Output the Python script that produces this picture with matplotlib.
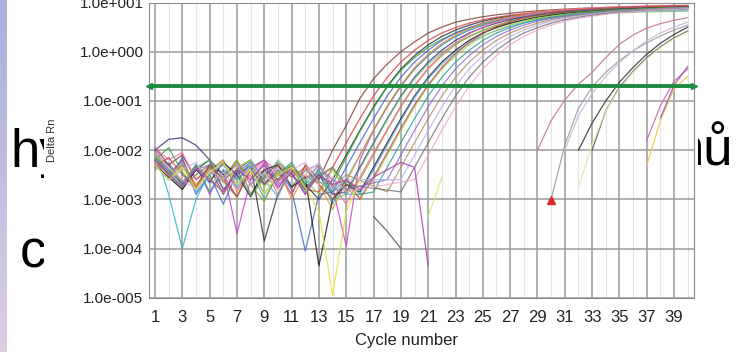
import numpy as np
import matplotlib
matplotlib.use("Agg")
import matplotlib.pyplot as plt
from matplotlib.patches import Rectangle
from matplotlib.ticker import NullLocator
from matplotlib.colors import LinearSegmentedColormap

plt.rcParams['font.family'] = ['Liberation Sans', 'DejaVu Sans']

# axis labels / ticks
x_ticks = list(range(1, 40, 2))
y_ticks = [1e-5, 1e-4, 1e-3, 1e-2, 1e-1, 1e0, 1e1]
y_tick_labels = ["1.0e-005", "1.0e-004", "1.0e-003", "1.0e-002",
                 "1.0e-001", "1.0e+000", "1.0e+001"]
threshold = 0.2

# early amplification curves, log10(Delta Rn)
# base = noisy baseline from cycle 1, rise = curve from rise_start on
early_base = [
    [-1.95, -2.3, -2.1, -2.6, -2.35, -2.9, -2.4, -2.2, -2.7, -2.45, -2.9, -2.3, -2.6],
    [-2.05, -2.5, -2.2, -2.75, -2.3, -2.5, -2.95, -2.4, -2.2, -2.65, -2.35, -2.8],
    [-2.1, -2.3, -2.7, -2.4, -2.2, -2.8, -2.5, -2.3, -3.85, -2.9, -2.4, -2.7, -3.0],
    [-2.2, -1.95, -2.45, -2.8, -2.3, -2.6, -2.2, -2.9, -2.5, -2.3, -2.75, -2.4, -2.65],
    [-2.3, -2.6, -2.15, -2.9, -2.5, -3.1, -2.45, -2.25, -2.7, -2.4, -2.8, -4.05, -2.9],
    [-2.0, -2.4, -2.7, -2.3, -2.9, -2.4, -3.7, -2.6, -2.25, -2.8, -2.35, -2.55],
    [-2.0, -2.9, -4.0, -3.0, -2.45, -2.2, -2.75, -2.4, -3.0, -2.5, -2.3, -2.85, -2.45, -3.1],
    [-2.15, -2.5, -2.25, -2.7, -2.4, -2.2, -2.85, -2.3, -2.6, -2.35, -3.0, -2.5, -2.7, -3.2],
    [-2.0, -1.78, -1.75, -1.9, -2.2, -2.5, -2.3, -2.7, -2.4, -2.6, -2.3, -2.75, -2.5, -2.9],
    [-2.1, -2.5, -2.8, -2.35, -2.2, -2.65, -2.95, -2.3, -2.6, -2.2, -2.5, -2.85, -2.4, -3.0],
    [-2.25, -2.6, -2.3, -2.8, -2.35, -2.55, -2.2, -2.7, -3.05, -2.45, -2.3, -2.8, -2.5, -2.35, -2.9],
    [-1.95, -2.2, -2.05, -2.6, -2.45, -2.25, -2.8, -2.5, -2.2, -2.45, -2.9, -2.4, -2.3, -2.7, -3.1],
    [-2.3, -2.55, -2.8, -2.4, -2.65, -2.25, -2.5, -2.95, -2.4, -2.3, -2.75, -2.55, -4.35, -3.0, -2.7],
    [-2.2, -2.45, -2.25, -2.85, -2.5, -2.3, -2.7, -2.2, -2.6, -2.95, -2.35, -2.65, -2.3, -2.75, -2.9],
    [-2.1, -2.35, -2.65, -2.3, -2.55, -2.85, -2.35, -2.2, -2.75, -2.45, -2.3, -2.6, -2.9, -2.4, -2.8, -2.95],
    [-2.35, -2.15, -2.5, -2.75, -2.3, -2.6, -2.95, -2.4, -2.7, -2.3, -2.55, -2.35, -2.7, -3.0, -2.6, -3.0],
    [-2.15, -2.4, -2.7, -2.3, -2.85, -2.4, -2.6, -2.3, -2.9, -2.5, -2.25, -2.7, -2.4, -2.85, -2.6, -2.9],
    [-2.4, -2.25, -2.65, -2.4, -2.3, -2.8, -2.5, -2.35, -2.2, -2.7, -2.45, -2.9, -2.35, -2.6, -2.8],
    [-2.25, -2.5, -2.3, -2.75, -2.4, -2.65, -2.25, -2.55, -2.4, -2.9, -2.35, -2.6, -2.3, -2.75, -2.5],
    [-2.3, -2.6, -2.4, -2.25, -2.7, -2.45, -2.8, -2.3, -2.55, -2.35, -2.7, -2.5, -2.25, -2.8, -2.6],
    [-2.2, -2.45, -2.75, -2.5, -2.3, -2.6, -2.4, -2.95, -2.55, -2.25, -2.5, -2.8, -2.55, -2.35, -2.7],
    [-2.05, -2.35, -2.6, -2.8, -2.4, -2.6, -2.3, -2.7, -2.45, -2.8, -2.4, -2.25, -2.7, -2.55, -2.85],
]
early_rise_start = [14, 13, 14, 14, 14, 13, 15, 15, 15, 15, 16, 16, 16, 16,
                    17, 17, 17, 18, 18, 19, 19, 20]
early_rise = [
    [-2.0, -1.5, -0.95, -0.55, -0.25, 0.0, 0.2, 0.38, 0.5, 0.6, 0.66, 0.71, 0.75, 0.78, 0.81, 0.83, 0.85, 0.865, 0.88, 0.89, 0.9, 0.91, 0.915, 0.92, 0.925, 0.93, 0.935],
    [-2.85, -2.35, -1.85, -1.36, -0.9, -0.52, -0.21, 0.03, 0.23, 0.38, 0.49, 0.58, 0.65, 0.7, 0.74, 0.775, 0.8, 0.82, 0.84, 0.855, 0.87, 0.88, 0.89, 0.9, 0.905, 0.91, 0.915, 0.92],
    [-2.6, -2.1, -1.6, -1.12, -0.7, -0.35, -0.08, 0.14, 0.31, 0.44, 0.54, 0.62, 0.68, 0.72, 0.76, 0.79, 0.81, 0.83, 0.85, 0.86, 0.875, 0.885, 0.895, 0.9, 0.905, 0.91, 0.915],
    [-2.7, -2.15, -1.62, -1.14, -0.72, -0.38, -0.12, 0.09, 0.25, 0.38, 0.48, 0.56, 0.62, 0.67, 0.71, 0.74, 0.76, 0.78, 0.8, 0.81, 0.82, 0.83, 0.84, 0.845, 0.85, 0.855, 0.86],
    [-2.85, -2.35, -1.85, -1.36, -0.9, -0.52, -0.21, 0.03, 0.23, 0.38, 0.49, 0.58, 0.65, 0.7, 0.74, 0.775, 0.8, 0.82, 0.84, 0.855, 0.87, 0.88, 0.89, 0.9, 0.905, 0.91, 0.915],
    [-2.5, -2.75, -3.95, -2.2, -1.6, -1.12, -0.7, -0.35, -0.08, 0.14, 0.31, 0.44, 0.54, 0.62, 0.68, 0.72, 0.76, 0.79, 0.81, 0.83, 0.85, 0.86, 0.875, 0.885, 0.895, 0.9, 0.905, 0.91],
    [-2.6, -2.1, -1.6, -1.12, -0.7, -0.35, -0.08, 0.14, 0.31, 0.44, 0.54, 0.62, 0.68, 0.72, 0.76, 0.79, 0.81, 0.83, 0.85, 0.86, 0.875, 0.885, 0.895, 0.9, 0.905, 0.91],
    [-2.65, -2.1, -1.58, -1.1, -0.68, -0.32, -0.05, 0.17, 0.34, 0.47, 0.57, 0.65, 0.71, 0.76, 0.8, 0.83, 0.85, 0.87, 0.88, 0.89, 0.9, 0.91, 0.92, 0.925, 0.93, 0.935],
    [-2.85, -2.35, -1.85, -1.36, -0.9, -0.52, -0.21, 0.03, 0.23, 0.38, 0.49, 0.58, 0.65, 0.7, 0.74, 0.775, 0.8, 0.82, 0.84, 0.855, 0.87, 0.88, 0.89, 0.9, 0.905, 0.91],
    [-2.9, -2.38, -1.88, -1.38, -0.92, -0.55, -0.25, -0.02, 0.17, 0.31, 0.42, 0.51, 0.58, 0.63, 0.67, 0.7, 0.73, 0.75, 0.77, 0.78, 0.79, 0.8, 0.81, 0.815, 0.82, 0.825],
    [-2.6, -2.1, -1.6, -1.12, -0.7, -0.35, -0.08, 0.14, 0.31, 0.44, 0.54, 0.62, 0.68, 0.72, 0.76, 0.79, 0.81, 0.83, 0.85, 0.86, 0.875, 0.885, 0.895, 0.9, 0.905],
    [-2.55, -2.05, -1.58, -1.1, -0.68, -0.33, -0.05, 0.18, 0.36, 0.5, 0.6, 0.68, 0.74, 0.79, 0.82, 0.85, 0.87, 0.89, 0.9, 0.91, 0.92, 0.93, 0.935, 0.94, 0.945],
    [-2.85, -2.35, -1.85, -1.36, -0.9, -0.52, -0.21, 0.03, 0.23, 0.38, 0.49, 0.58, 0.65, 0.7, 0.74, 0.775, 0.8, 0.82, 0.84, 0.855, 0.87, 0.88, 0.89, 0.9, 0.905],
    [-2.9, -2.4, -1.9, -1.4, -0.93, -0.55, -0.25, -0.01, 0.18, 0.32, 0.43, 0.52, 0.59, 0.64, 0.68, 0.72, 0.75, 0.77, 0.79, 0.81, 0.82, 0.83, 0.84, 0.845, 0.85],
    [-2.6, -2.1, -1.6, -1.12, -0.7, -0.35, -0.08, 0.14, 0.31, 0.44, 0.54, 0.62, 0.68, 0.72, 0.76, 0.79, 0.81, 0.83, 0.85, 0.86, 0.875, 0.885, 0.895, 0.9],
    [-2.55, -2.05, -1.55, -1.08, -0.67, -0.32, -0.04, 0.19, 0.37, 0.51, 0.61, 0.69, 0.75, 0.79, 0.83, 0.85, 0.87, 0.885, 0.9, 0.91, 0.92, 0.925, 0.93, 0.935],
    [-2.85, -2.35, -1.85, -1.36, -0.9, -0.52, -0.21, 0.03, 0.23, 0.38, 0.49, 0.58, 0.65, 0.7, 0.74, 0.775, 0.8, 0.82, 0.84, 0.855, 0.87, 0.88, 0.89, 0.9],
    [-2.6, -2.1, -1.6, -1.12, -0.7, -0.35, -0.08, 0.14, 0.31, 0.44, 0.54, 0.62, 0.68, 0.72, 0.76, 0.79, 0.81, 0.83, 0.85, 0.86, 0.875, 0.885, 0.895],
    [-2.85, -2.35, -1.85, -1.36, -0.9, -0.52, -0.21, 0.03, 0.23, 0.38, 0.49, 0.58, 0.65, 0.7, 0.74, 0.775, 0.8, 0.82, 0.84, 0.855, 0.87, 0.88, 0.89],
    [-2.6, -2.1, -1.6, -1.12, -0.7, -0.35, -0.08, 0.14, 0.31, 0.44, 0.54, 0.62, 0.68, 0.72, 0.76, 0.79, 0.81, 0.83, 0.85, 0.86, 0.875, 0.885],
    [-2.85, -2.35, -1.85, -1.36, -0.9, -0.52, -0.21, 0.03, 0.23, 0.38, 0.49, 0.58, 0.65, 0.7, 0.74, 0.775, 0.8, 0.82, 0.84, 0.855, 0.87, 0.88],
    [-2.6, -2.1, -1.6, -1.12, -0.7, -0.35, -0.08, 0.14, 0.31, 0.44, 0.54, 0.62, 0.68, 0.72, 0.76, 0.79, 0.81, 0.83, 0.85, 0.86, 0.875],
]
early_colors = ['#7a3b2e', '#d83a3a', '#2b2b2b', '#2e9e3e', '#3a5fcd', '#c83cc8',
                '#2bb3c0', '#f0902a', '#2c2c7a', '#6cc06c', '#9a9a2a', '#f06aa0',
                '#111111', '#5aa0e6', '#9ad040', '#b84848', '#2a9a8a', '#8a6acd',
                '#b08a60', '#b8b0e8', '#707070', '#e8a8d0']

# short fragments that never amplify
frag_start = [1, 1, 17, 21]
frag_values = [
    [-2.3, -2.6, -2.35, -2.8, -2.45, -2.25, -2.7, -2.4, -2.9, -2.5, -2.35, -2.75, -3.25, -4.95, -3.25, -2.6],
    [-2.2, -2.5, -2.75, -2.35, -2.6, -2.85, -2.4, -2.6, -2.3, -2.75, -2.45, -2.9, -2.5, -2.7, -2.6, -2.8, -2.55, -2.4, -2.25, -2.35, -4.35],
    [-3.35, -3.65, -4.0],
    [-3.35, -2.55],
]
frag_colors = ['#e6e03a', '#b03cb0', '#555555', '#dfe870']

# late curves
late_start = [29, 30, 32, 33, 32, 31, 37, 37, 38]
late_values = [
    [-2.0, -1.4, -0.98, -0.66, -0.42, -0.12, 0.15, 0.34, 0.48, 0.57, 0.64, 0.69],
    [-3.0, -1.9, -1.15, -0.72, -0.42, -0.18, 0.02, 0.18, 0.32, 0.44, 0.54],
    [-2.0, -1.45, -1.0, -0.62, -0.32, -0.05, 0.17, 0.35, 0.5],
    [-2.0, -1.2, -0.72, -0.4, -0.12, 0.1, 0.28, 0.42],
    [-2.75, -1.9, -1.2, -0.75, -0.42, -0.15, 0.08, 0.26, 0.4],
    [-2.0, -1.3, -0.85, -0.5, -0.22, 0.02, 0.22, 0.38, 0.5, 0.6],
    [-2.3, -1.4, -0.75, -0.5],
    [-1.8, -1.1, -0.6, -0.35],
    [-1.35, -0.68, -0.3],
]
late_colors = ['#c77a98', '#a0a0a0', '#3a3a3a', '#555a66', '#ece4a8', '#c8b8dc',
               '#e8c84a', '#c86aa8', '#9a5ab0']

marker_cycle = 30
marker_value = 9.5e-4

W, H = 744, 352
fig = plt.figure(figsize=(W / 100, H / 100), dpi=100)

# slide background pieces
strip = fig.add_axes([0, 0, 7 / W, 1])
grad = np.linspace(0, 1, 256).reshape(-1, 1)
cmap = LinearSegmentedColormap.from_list('strip', ['#a9b1dd', '#c2bee2', '#dccfe4'])
strip.imshow(grad, aspect='auto', cmap=cmap)
strip.axis('off')

for txt, x, y in [("hy", 10, 167), ("c", 20, 267), ("nů", 675, 165)]:
    fig.text(x / W, 1 - y / H, txt, fontsize=38, color='black', ha='left',
             va='baseline', zorder=0.5)

cover = Rectangle((44 / W, 0), (698 - 44) / W, 1, transform=fig.transFigure,
                  facecolor='white', edgecolor='none', zorder=0.8)
fig.add_artist(cover)

# chart
ax = fig.add_axes([149 / W, 54.3 / H, 545 / W, 295.2 / H])
ax.set_zorder(1)
ax.set_yscale('log')
ax.set_xlim(0.56, 40.46)
ax.set_ylim(1e-5, 1e1)

for base, start, rise, col in zip(early_base, early_rise_start, early_rise, early_colors):
    x = np.r_[np.arange(1, len(base) + 1), np.arange(start, start + len(rise))]
    y = 10 ** np.array(base + rise)
    ax.plot(x, y, color=col, lw=0.9, alpha=0.8, zorder=2)

for start, vals, col in zip(frag_start, frag_values, frag_colors):
    x = np.arange(start, start + len(vals))
    ax.plot(x, 10 ** np.array(vals), color=col, lw=0.9, alpha=0.85, zorder=2)

for start, vals, col in zip(late_start, late_values, late_colors):
    x = np.arange(start, start + len(vals))
    ax.plot(x, 10 ** np.array(vals), color=col, lw=0.9, alpha=0.9, zorder=2)

ax.plot([marker_cycle], [marker_value], marker='^', ms=6, color='#e02828',
        ls='none', zorder=4)

# threshold line with end arrows
green = '#1d8a3e'
ax.axhline(threshold, color=green, lw=2.8, zorder=3)
ax.plot([0.56], [threshold], marker='<', ms=5, color=green, clip_on=False, zorder=3)
ax.plot([40.46], [threshold], marker='>', ms=5, color=green, clip_on=False, zorder=3)

# grid and ticks
ax.set_xticks(x_ticks)
ax.set_xticks(range(2, 41, 2), minor=True)
ax.set_yticks(y_ticks)
ax.set_yticklabels(y_tick_labels)
ax.yaxis.set_minor_locator(NullLocator())
ax.grid(which='major', color='#9a9a9a', lw=1.1)
ax.grid(which='minor', axis='x', color='#e4e4e4', lw=0.8)
ax.set_axisbelow(True)
ax.tick_params(which='both', length=0)
ax.tick_params(axis='x', labelsize=12, pad=9, colors='#222222')
ax.tick_params(axis='y', labelsize=11, pad=4, colors='#222222')
for s in ax.spines.values():
    s.set_color('#8c8c8c')

ax.set_xlabel("Cycle number", fontsize=12, color='#222222')
ax.xaxis.set_label_coords(0.473, -0.12)
ax.set_ylabel("Delta Rn", fontsize=8, color='#333333')
ax.yaxis.set_label_coords(-0.169, 0.534)

fig.savefig("out.png", dpi=100)
